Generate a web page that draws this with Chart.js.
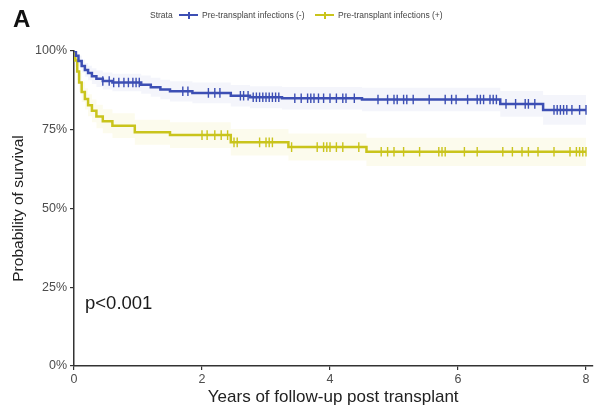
<!DOCTYPE html>
<html>
<head>
<meta charset="utf-8">
<script src="https://cdn.jsdelivr.net/npm/chart.js@4/dist/chart.umd.min.js"></script>
<style>
  html, body { margin: 0; padding: 0; background: #ffffff; }
  #wrap { position: relative; width: 601px; height: 408px; font-family: "Liberation Sans", Arial, sans-serif; }
  canvas { position: absolute; left: 0; top: 0; }
  .txt { position: absolute; white-space: nowrap; }
  #panel { left: 13px; top: 6.7px; font-size: 24px; line-height: 24px; font-weight: bold; color: #111; }
  .leg { top: 10.8px; font-size: 8.5px; line-height: 8.5px; color: #444; }
  .sym { position: absolute; height: 2px; }
  .tick { position: absolute; width: 1.5px; height: 7px; }
  #pval { left: 85px; top: 294.3px; font-size: 18.5px; line-height: 18.5px; color: #1a1a1a; }
</style>
</head>
<body>
<div id="wrap">
  <canvas id="km" width="601" height="408"></canvas>
  <div id="panel" class="txt">A</div>
  <div class="txt leg" style="left:150px;">Strata</div>
  <div class="sym" id="symNeg" style="left:179px; top:14px; width:19px;"></div>
  <div class="tick" id="tickNeg" style="left:188px; top:11.5px;"></div>
  <div class="txt leg" style="left:202px;">Pre-transplant infections (-)</div>
  <div class="sym" id="symPos" style="left:315px; top:14px; width:19px;"></div>
  <div class="tick" id="tickPos" style="left:324px; top:11.5px;"></div>
  <div class="txt leg" style="left:338px;">Pre-transplant infections (+)</div>
  <div id="pval" class="txt">p&lt;0.001</div>
</div>
<script>
// Kaplan-Meier estimates, time in years, survival as a fraction
const negTimes = [0, 0.03, 0.07, 0.12, 0.17, 0.22, 0.28, 0.35, 0.45, 0.6, 1.05, 1.2, 1.35, 1.5, 1.85, 2.45, 2.75, 3.25, 4.5, 6.66, 7.33, 8.0];
const negSurv  = [1.0, 0.985, 0.968, 0.952, 0.94, 0.93, 0.92, 0.912, 0.905, 0.9, 0.893, 0.885, 0.878, 0.872, 0.867, 0.858, 0.853, 0.85, 0.846, 0.832, 0.813, 0.813];
const negUpper = [1.0, 0.995, 0.985, 0.972, 0.962, 0.953, 0.945, 0.938, 0.932, 0.928, 0.922, 0.915, 0.909, 0.904, 0.9, 0.892, 0.888, 0.886, 0.883, 0.873, 0.86, 0.86];
const negLower = [1.0, 0.975, 0.951, 0.932, 0.918, 0.907, 0.895, 0.886, 0.878, 0.872, 0.864, 0.855, 0.847, 0.84, 0.834, 0.824, 0.818, 0.814, 0.809, 0.791, 0.766, 0.766];
const negCensor = [0.45, 0.55, 0.62, 0.7, 0.78, 0.85, 0.92, 0.97, 1.02, 1.7, 1.78, 2.1, 2.2, 2.28, 2.6, 2.65, 2.72, 2.8, 2.85, 2.9, 2.95, 3.0, 3.05, 3.1, 3.15, 3.2, 3.45, 3.55, 3.65, 3.7, 3.75, 3.82, 3.9, 4.0, 4.1, 4.2, 4.25, 4.38, 4.75, 4.9, 5.0, 5.05, 5.15, 5.2, 5.3, 5.55, 5.8, 5.9, 5.97, 6.15, 6.3, 6.35, 6.4, 6.5, 6.55, 6.6, 6.75, 6.9, 7.05, 7.1, 7.2, 7.5, 7.55, 7.6, 7.65, 7.7, 7.78, 7.9, 8.0];

const posTimes = [0, 0.02, 0.05, 0.08, 0.12, 0.17, 0.22, 0.28, 0.35, 0.45, 0.6, 0.95, 1.5, 2.45, 3.35, 4.57, 8.0];
const posSurv  = [1.0, 0.97, 0.935, 0.9, 0.87, 0.848, 0.828, 0.81, 0.792, 0.777, 0.763, 0.742, 0.733, 0.71, 0.695, 0.68, 0.68];
const posUpper = [1.0, 0.99, 0.962, 0.93, 0.902, 0.882, 0.863, 0.846, 0.829, 0.815, 0.802, 0.782, 0.774, 0.752, 0.738, 0.725, 0.725];
const posLower = [1.0, 0.95, 0.908, 0.87, 0.838, 0.814, 0.793, 0.774, 0.755, 0.739, 0.724, 0.702, 0.692, 0.668, 0.652, 0.635, 0.635];
const posCensor = [2.0, 2.08, 2.2, 2.3, 2.4, 2.5, 2.55, 2.9, 3.0, 3.05, 3.1, 3.4, 3.8, 3.9, 3.95, 4.0, 4.1, 4.2, 4.45, 4.8, 4.9, 5.0, 5.15, 5.4, 5.7, 5.75, 5.8, 6.1, 6.3, 6.7, 6.85, 7.0, 7.1, 7.25, 7.5, 7.75, 7.85, 7.9, 7.95, 8.0];

const xTicks = [0, 2, 4, 6, 8];
const yTicks = [0, 0.25, 0.5, 0.75, 1];

const colNeg = '#3d4fb4';
const colPos = '#c9c41c';

document.getElementById('symNeg').style.background = colNeg;
document.getElementById('tickNeg').style.background = colNeg;
document.getElementById('symPos').style.background = colPos;
document.getElementById('tickPos').style.background = colPos;

const pts = (ts, vs) => ts.map((t, i) => ({ x: t, y: vs[i] }));
// survival value of a step curve at time t (last step at or before t)
function stepValue(ts, vs, t) {
  let v = vs[0];
  for (let i = 0; i < ts.length; i++) { if (ts[i] <= t) v = vs[i]; }
  return v;
}
const censorPts = (cs, ts, vs) => cs.map(t => ({ x: t, y: stepValue(ts, vs, t) }));

function band(ts, vs, color, fill) {
  return { data: pts(ts, vs), stepped: true, borderWidth: 0, pointRadius: 0,
           borderColor: 'rgba(0,0,0,0)', backgroundColor: color, fill: fill, order: 3 };
}
function curve(ts, vs, color) {
  return { data: pts(ts, vs), stepped: true, borderWidth: 2.5, pointRadius: 0,
           borderColor: color, fill: false, order: 1 };
}
function marks(cs, ts, vs, color) {
  return { data: censorPts(cs, ts, vs), showLine: false, pointStyle: 'line', rotation: 90,
           pointRadius: 4.8, borderWidth: 1.4, borderColor: color, backgroundColor: color, order: 0 };
}

const font = "'Liberation Sans', Arial, sans-serif";

new Chart(document.getElementById('km'), {
  type: 'line',
  data: {
    datasets: [
      band(negTimes, negUpper, 'rgba(60,77,179,0.055)', '+1'),
      band(negTimes, negLower, 'rgba(60,77,179,0.055)', false),
      band(posTimes, posUpper, 'rgba(225,210,60,0.09)', '+1'),
      band(posTimes, posLower, 'rgba(225,210,60,0.09)', false),
      curve(negTimes, negSurv, colNeg),
      curve(posTimes, posSurv, colPos),
      marks(negCensor, negTimes, negSurv, colNeg),
      marks(posCensor, posTimes, posSurv, colPos)
    ]
  },
  options: {
    responsive: false,
    animation: false,
    devicePixelRatio: 1,
    layout: { padding: { top: 51, right: 8.6, left: 0, bottom: 0 } },
    plugins: { legend: { display: false }, tooltip: { enabled: false } },
    scales: {
      x: {
        type: 'linear', min: 0, max: 8.1,
        afterBuildTicks: s => { s.ticks = xTicks.map(v => ({ value: v })); },
        afterFit: s => { s.height = 42; },
        grid: { drawOnChartArea: false, drawTicks: true, tickLength: 4, color: '#333', lineWidth: 1.2 },
        border: { display: true, color: '#333', width: 1.5 },
        ticks: { color: '#4d4d4d', font: { family: font, size: 12.5 }, padding: 2, maxRotation: 0 },
        title: { display: true, text: 'Years of follow-up post transplant', color: '#222',
                 font: { family: font, size: 17 }, padding: { top: 0, bottom: 0 } }
      },
      y: {
        min: 0, max: 1,
        afterBuildTicks: s => { s.ticks = yTicks.map(v => ({ value: v })); },
        afterFit: s => { s.width = 74; },
        grid: { drawOnChartArea: false, drawTicks: true, tickLength: 4, color: '#333', lineWidth: 1.2 },
        border: { display: true, color: '#333', width: 1.5 },
        ticks: { color: '#4d4d4d', font: { family: font, size: 12.5 }, padding: 3,
                 callback: v => Math.round(v * 100) + '%' },
        title: { display: true, text: 'Probability of survival', color: '#222',
                 font: { family: font, size: 15.5 }, padding: { top: 9, bottom: 0 } }
      }
    }
  }
});
</script>
</body>
</html>
